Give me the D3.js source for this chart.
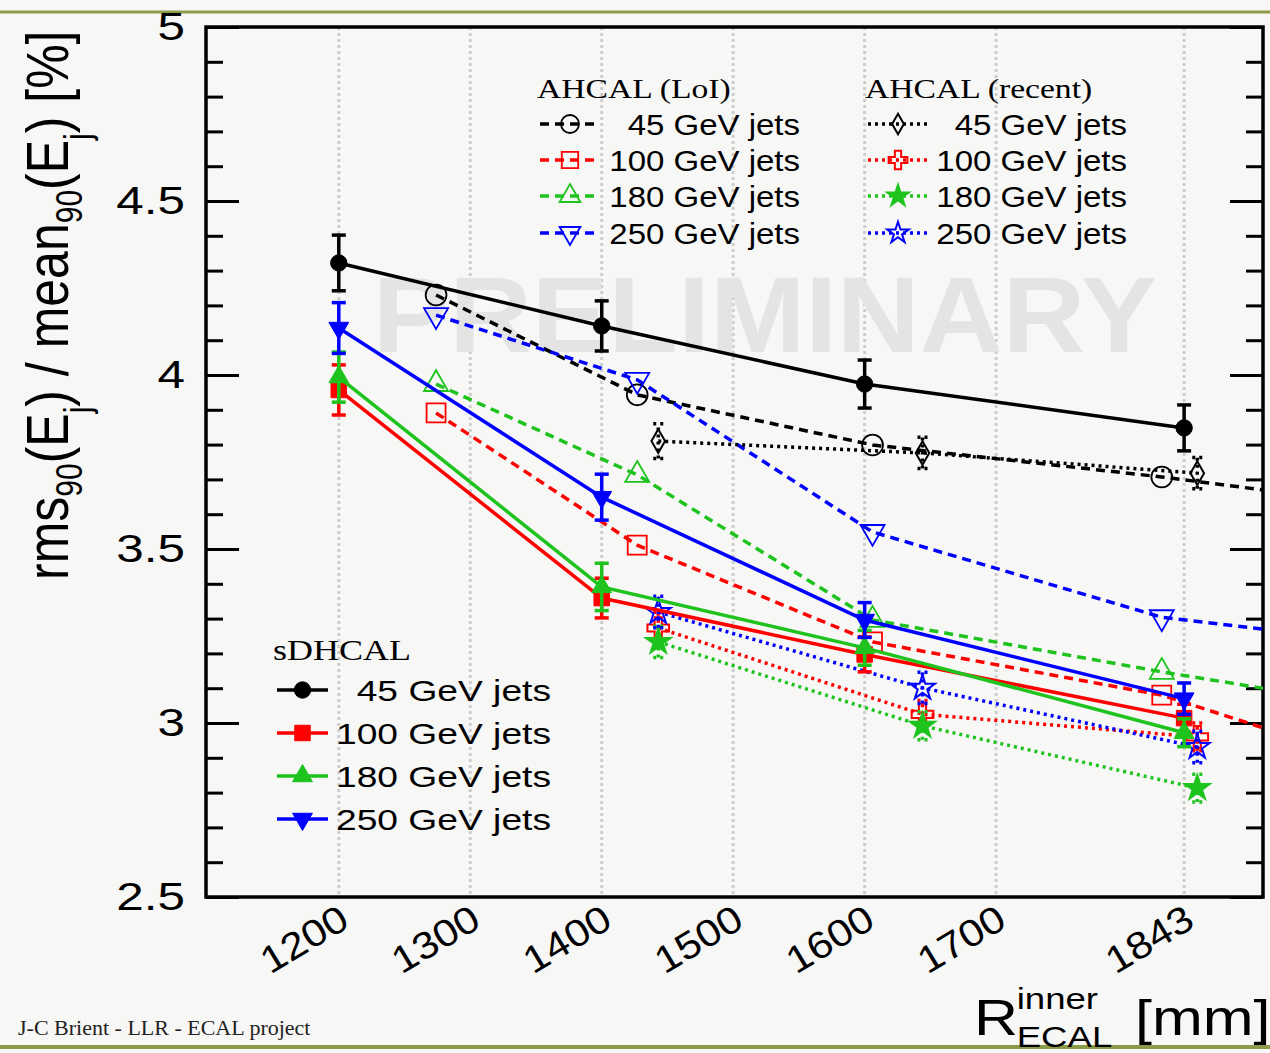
<!DOCTYPE html>
<html>
<head>
<meta charset="utf-8">
<script src="https://cdn.jsdelivr.net/npm/d3@7"></script>
<style>
body { margin: 0; background: #f7f7f6; }
svg { display: block; }
</style>
</head>
<body>
<svg id="chart" width="1270" height="1053"></svg>
<script>
// data
const xTicks = [1200, 1300, 1400, 1500, 1600, 1700, 1843];
const yMajor = [2.5, 3, 3.5, 4, 4.5, 5];
const yMinor = d3.range(2.5, 5.001, 0.1);
const jetLabels = ["45 GeV jets", "100 GeV jets", "180 GeV jets", "250 GeV jets"];

// sDHCAL (solid, error bars)
const sdhcalR = [1200, 1400, 1600, 1843];
const sdhcal45 = [4.322, 4.141, 3.974, 3.848];
const sdhcal100 = [3.957, 3.359, 3.197, 3.014];
const sdhcal180 = [3.994, 3.391, 3.216, 2.972];
const sdhcal250 = [4.135, 3.649, 3.296, 3.070];
const sdhcalErr45 = [0.08, 0.072, 0.069, 0.066];
const sdhcalErr100 = [0.072, 0.057, 0.05, 0.04];
const sdhcalErr180 = [0.072, 0.068, 0.05, 0.04];
const sdhcalErr250 = [0.073, 0.066, 0.05, 0.045];

// AHCAL LoI (dashed, open markers); last point lies past the frame
const loiR = [1274, 1427, 1606, 1826, 1950];
const loi45 = [4.23, 3.943, 3.799, 3.707, 3.647];
const loi100 = [3.891, 3.511, 3.233, 3.080, 2.929];
const loi180 = [3.974, 3.713, 3.296, 3.147, 3.071];
const loi250 = [4.172, 3.986, 3.549, 3.304, 3.249];

// AHCAL recent (dotted)
const recentR = [1443, 1644, 1853];
const recent45 = [3.810, 3.776, 3.718];
const recent100 = [3.273, 3.025, 2.960];
const recent180 = [3.233, 2.992, 2.813];
const recent250 = [3.319, 3.101, 2.931];
const recentErr45 = [0.05, 0.045, 0.045];
const recentErr100 = [0.045, 0.04, 0.04];
const recentErr180 = [0.045, 0.04, 0.04];
const recentErr250 = [0.045, 0.045, 0.045];

const colors = ["#000000", "#ff0000", "#1ec31e", "#0000ff"];
const sans = "'Liberation Sans', Arial, sans-serif";
const serif = "'Liberation Serif', 'Times New Roman', serif";

const W = 1270, H = 1053;
const frame = {left: 206, top: 27, right: 1263, bottom: 897};

const x = d3.scaleLinear().domain([1099, 1903]).range([frame.left, frame.right]);
const y = d3.scaleLinear().domain([2.5, 5]).range([frame.bottom, frame.top]);

const svg = d3.select("#chart");

svg.append("rect").attr("width", W).attr("height", H).attr("fill", "#f7f7f6");

// slide frame lines
svg.append("line").attr("x1", 0).attr("x2", W).attr("y1", 12).attr("y2", 12)
	.attr("stroke", "#8c9b45").attr("stroke-width", 3);
svg.append("line").attr("x1", 0).attr("x2", W).attr("y1", 1047).attr("y2", 1047)
	.attr("stroke", "#8c9b45").attr("stroke-width", 4);

// grid
svg.append("g").selectAll("line").data(xTicks).join("line")
	.attr("x1", d => x(d)).attr("x2", d => x(d))
	.attr("y1", frame.top).attr("y2", frame.bottom)
	.attr("stroke", "#cdcdcd").attr("stroke-width", 3).attr("stroke-dasharray", "3,3");

// watermark
svg.append("text").attr("x", 765).attr("y", 352).attr("text-anchor", "middle")
	.attr("font-family", sans).attr("font-weight", "bold").attr("font-size", 108)
	.attr("transform", "translate(765,0) scale(1.06,1) translate(-765,0)")
	.attr("fill", "#e4e4e4").text("PRELIMINARY");

// y axes, ticks pointing inward
const minorLeft = d3.axisLeft(y).tickValues(yMinor).tickSizeInner(-17).tickSizeOuter(0).tickFormat("");
const majorLeft = d3.axisLeft(y).tickValues(yMajor).tickSizeInner(-33).tickSizeOuter(0).tickPadding(22)
	.tickFormat(d3.format("~g"));
const minorRight = d3.axisRight(y).tickValues(yMinor).tickSizeInner(-17).tickSizeOuter(0).tickFormat("");
const majorRight = d3.axisRight(y).tickValues(yMajor).tickSizeInner(-33).tickSizeOuter(0).tickFormat("");

[[minorLeft, frame.left], [majorLeft, frame.left], [minorRight, frame.right], [majorRight, frame.right]]
	.forEach(([ax, px]) => {
		const g = svg.append("g").attr("transform", `translate(${px},0)`).call(ax);
		g.select(".domain").remove();
		g.selectAll(".tick line").attr("stroke", "#000").attr("stroke-width", 3);
	});

svg.selectAll(".tick text")
	.attr("font-family", sans).attr("font-size", 38).attr("fill", "#000")
	.attr("x", -21 / 1.3).attr("transform", "scale(1.3,1)");

// x axis labels (no ticks, rotated)
const xAxis = svg.append("g").attr("transform", `translate(0,${frame.bottom})`)
	.call(d3.axisBottom(x).tickValues(xTicks).tickSize(0).tickFormat(d3.format("d")));
xAxis.select(".domain").remove();
xAxis.selectAll("text")
	.attr("x", 0).attr("y", 0).attr("dy", 0)
	.attr("text-anchor", "end")
	.attr("transform", "translate(12,29) rotate(-31) scale(1.12,1)")
	.attr("font-family", sans).attr("font-size", 38).attr("fill", "#000");

// frame
svg.append("rect").attr("x", frame.left).attr("y", frame.top)
	.attr("width", frame.right - frame.left).attr("height", frame.bottom - frame.top)
	.attr("fill", "none").attr("stroke", "#000").attr("stroke-width", 3.5);

// series
svg.append("clipPath").attr("id", "plotClip").append("rect")
	.attr("x", frame.left).attr("y", frame.top)
	.attr("width", frame.right - frame.left).attr("height", frame.bottom - frame.top);

const plot = svg.append("g").attr("clip-path", "url(#plotClip)");

const down = "rotate(180)";
const loiStyle = [
	{sym: d3.symbolCircle, size: 340, fill: false},
	{sym: d3.symbolSquare, size: 360, fill: false},
	{sym: d3.symbolTriangle, size: 250, fill: false},
	{sym: d3.symbolTriangle, size: 250, fill: false, rot: down}
];
const recentStyle = [
	{sym: d3.symbolDiamond, size: 160, fill: false},
	{sym: d3.symbolCross, size: 260, fill: false},
	{sym: d3.symbolStar, size: 190, fill: true},
	{sym: d3.symbolStar, size: 190, fill: false}
];
const sdhcalStyle = [
	{sym: d3.symbolCircle, size: 210, fill: true},
	{sym: d3.symbolSquare, size: 240, fill: true},
	{sym: d3.symbolTriangle, size: 170, fill: true},
	{sym: d3.symbolTriangle, size: 170, fill: true, rot: down}
];

const families = [
	{xs: loiR, ys: [loi45, loi100, loi180, loi250], errs: null, styles: loiStyle,
		width: 3.5, dash: "9,6", markStroke: 1.8, cap: 0},
	{xs: recentR, ys: [recent45, recent100, recent180, recent250],
		errs: [recentErr45, recentErr100, recentErr180, recentErr250], styles: recentStyle,
		width: 3.5, dash: "3,4", markStroke: 2, cap: 5},
	{xs: sdhcalR, ys: [sdhcal45, sdhcal100, sdhcal180, sdhcal250],
		errs: [sdhcalErr45, sdhcalErr100, sdhcalErr180, sdhcalErr250], styles: sdhcalStyle,
		width: 3.5, dash: null, markStroke: 1, cap: 7}
];

const drawMarker = (g, st, color, stroke, cx, cy, k) => {
	g.append("path")
		.attr("d", d3.symbol().type(st.sym).size(st.size * (k || 1))())
		.attr("transform", `translate(${cx},${cy})` + (st.rot ? " " + st.rot : ""))
		.attr("fill", st.fill ? color : "none")
		.attr("stroke", color).attr("stroke-width", stroke);
};

families.forEach(fam => {
	fam.ys.forEach((vals, k) => {
		const color = colors[k];
		const pts = fam.xs.map((r, i) => ({r, v: vals[i], e: fam.errs ? fam.errs[k][i] : 0}));
		const g = plot.append("g");
		g.append("path").datum(pts)
			.attr("d", d3.line().x(d => x(d.r)).y(d => y(d.v)))
			.attr("fill", "none").attr("stroke", color).attr("stroke-width", fam.width)
			.attr("stroke-dasharray", fam.dash);
		if (fam.errs) {
			pts.forEach(d => {
				const eg = g.append("g").attr("stroke", color).attr("stroke-width", 3.5)
					.attr("stroke-dasharray", fam.dash);
				eg.append("line").attr("x1", x(d.r)).attr("x2", x(d.r))
					.attr("y1", y(d.v - d.e)).attr("y2", y(d.v + d.e));
				[d.v - d.e, d.v + d.e].forEach(v => {
					eg.append("line").attr("x1", x(d.r) - fam.cap).attr("x2", x(d.r) + fam.cap)
						.attr("y1", y(v)).attr("y2", y(v));
				});
			});
		}
		pts.forEach(d => drawMarker(g, fam.styles[k], color, fam.markStroke, x(d.r), y(d.v)));
	});
});

// legends
const stretchText = (sel, px, py, sx) => sel.attr("transform", `translate(${px},${py}) scale(${sx},1)`);

const legendBlock = (title, tx, ty, rows, lineX0, lineX1, textEnd, fam, titleSize, textScale, markScale) => {
	stretchText(svg.append("text").attr("font-family", serif).attr("font-size", titleSize)
		.attr("fill", "#000").text(title), tx, ty, 1.2);
	rows.forEach((ry, k) => {
		svg.append("line").attr("x1", lineX0).attr("x2", lineX1).attr("y1", ry).attr("y2", ry)
			.attr("stroke", colors[k]).attr("stroke-width", fam.width).attr("stroke-dasharray", fam.dash);
		drawMarker(svg, fam.styles[k], colors[k], fam.markStroke, (lineX0 + lineX1) / 2, ry, markScale);
		stretchText(svg.append("text").attr("text-anchor", "end").attr("font-family", sans)
			.attr("font-size", 30).attr("fill", "#000").text(jetLabels[k]), textEnd, ry + 11, textScale);
	});
};

legendBlock("AHCAL (LoI)", 537, 98, [124, 160, 196, 233], 540, 600, 800, families[0], 28, 1.1, 0.75);
legendBlock("AHCAL (recent)", 865, 98, [124, 160, 196, 233], 868, 928, 1127, families[1], 28, 1.1, 0.75);
legendBlock("sDHCAL", 273, 660, [690, 733, 776, 819], 277, 328, 551, families[2], 30, 1.24, 1);

// y axis title
const yt = svg.append("text").attr("font-family", sans).attr("font-size", 50).attr("fill", "#000")
	.attr("transform", "translate(68,580) rotate(-90) scale(1,1.2)");
yt.append("tspan").text("rms");
yt.append("tspan").attr("font-size", 30).attr("dy", 12).text("90");
yt.append("tspan").attr("dy", -12).text("(E");
yt.append("tspan").attr("font-size", 30).attr("dy", 18).text("j");
yt.append("tspan").attr("dy", -18).text(") / mean");
yt.append("tspan").attr("font-size", 30).attr("dy", 12).text("90");
yt.append("tspan").attr("dy", -12).text("(E");
yt.append("tspan").attr("font-size", 30).attr("dy", 18).text("j");
yt.append("tspan").attr("dy", -18).text(") [%]");

// x axis title
const xt = svg.append("g").attr("transform", "translate(974,1035) scale(1.22,1)")
	.attr("font-family", sans).attr("fill", "#000");
xt.append("text").attr("font-size", 50).text("R");
xt.append("text").attr("x", 35).attr("y", -26).attr("font-size", 30).text("inner");
xt.append("text").attr("x", 35).attr("y", 12).attr("font-size", 30).text("ECAL");
xt.append("text").attr("x", 132).attr("font-size", 50).text("[mm]");

// footer
svg.append("text").attr("x", 18).attr("y", 1035).attr("font-family", serif)
	.attr("font-size", 22).attr("fill", "#222").text("J-C Brient - LLR - ECAL project");
</script>
</body>
</html>
